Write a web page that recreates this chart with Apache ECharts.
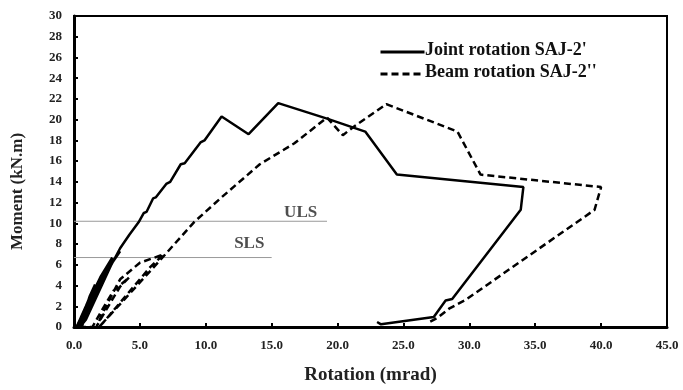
<!DOCTYPE html>
<html><head><meta charset="utf-8">
<script src="https://cdn.jsdelivr.net/npm/echarts@6/dist/echarts.min.js"></script>
<style>html,body{margin:0;padding:0;background:#fff}#c{width:683px;height:390px}</style>
</head><body><div id="c"></div>
<script>
const jointRot = [0.2, 0.9, 1.6, 1.2, 0.5, 0.35, 1.0, 2.0, 2.9, 2.4, 0.8, 0.5, 1.3, 2.4, 3.2, 3.5, 2.9, 0.9, 0.45, 2.0, 3.5, 4.2, 4.9, 5.3, 5.5, 6.0, 6.2, 7.0, 7.3, 8.1, 8.4, 9.6, 9.9, 11.2, 13.25, 15.5, 19.2, 22.1, 24.5, 34.1, 33.9, 28.7, 28.2, 27.3, 23.3, 23.0];
const jointM   = [0, 2.0, 4.1, 3.0, 0.3, 0, 2.2, 4.8, 6.7, 5.6, 0.6, 0, 2.8, 5.4, 6.8, 7.3, 6.2, 0.7, 0, 4.0, 7.6, 8.9, 10.1, 11.0, 11.1, 12.4, 12.5, 13.8, 14.0, 15.7, 15.8, 17.8, 18.0, 20.3, 18.6, 21.6, 20.1, 18.85, 14.7, 13.5, 11.3, 2.7, 2.55, 0.96, 0.26, 0.48];
const beamRot  = [0.2, 0.9, 1.2, 0.7, 0.6, 1.4, 2.2, 3.0, 4.2, 3.5, 1.9, 1.7, 2.5, 3.5, 5.0, 6.8, 5.8, 2.2, 1.9, 4.0, 6.5, 9.1, 11.1, 14.1, 16.7, 19.2, 20.4, 21.2, 23.7, 29.1, 30.85, 40.0, 39.5, 29.7, 28.5, 27.6, 27.0];
const beamM    = [0, 1.8, 2.6, 0.5, 0, 0, 1.8, 3.5, 4.8, 3.9, 0.5, 0, 2.2, 4.6, 6.2, 7.0, 5.8, 0.4, 0, 2.9, 6.4, 10.1, 12.4, 15.7, 17.7, 20.2, 18.5, 19.3, 21.5, 18.85, 14.7, 13.5, 11.3, 2.6, 1.8, 0.9, 0.5];
const seriesNames = ["Joint rotation SAJ-2'", "Beam rotation SAJ-2''"];
const limitNames = ['ULS', 'SLS'];
const limitM = [10.2, 6.7];
const limitEnd = [19.2, 15.0];
const limitLabelPos = [[17.2, 11.0], [13.3, 8.0]];

const font = 'Liberation Serif';
const zip = (a, b) => a.map((v, i) => [v, b[i]]);
const limitSeries = limitNames.map((n, i) => ({
  type: 'line', silent: true, symbol: 'none',
  data: [[0, limitM[i]], [limitEnd[i], limitM[i]]],
  lineStyle: { color: '#999', width: 1 }, z: 1
}));
const limitLabels = {
  type: 'scatter', symbolSize: 0, silent: true,
  data: limitNames.map((n, i) => ({ value: limitLabelPos[i], name: n })),
  label: { show: true, position: 'inside', formatter: p => p.name,
    fontFamily: font, fontWeight: 'bold', fontSize: 17, color: '#222' }
};
const legendX = 378, legendY = [51, 73];
const legendGraphics = [];
seriesNames.forEach((n, i) => {
  legendGraphics.push({ type: 'line', left: legendX, top: legendY[i] - 1.5,
    shape: { x1: 0, y1: 0, x2: 44, y2: 0 },
    style: { stroke: '#000', lineWidth: 3, lineDash: i ? [7, 4] : null } });
  legendGraphics.push({ type: 'text', left: legendX + 47, top: legendY[i] - 10,
    style: { text: n, font: 'bold 18px "Liberation Serif"', fill: '#111' } });
});
const chart = echarts.init(document.getElementById('c'));
chart.setOption({
  animation: false,
  grid: { left: 74, right: 16, top: 16, bottom: 60, show: true, borderColor: '#000', borderWidth: 2 },
  graphic: legendGraphics,
  xAxis: {
    type: 'value', min: 0, max: 45, interval: 5,
    name: 'Rotation (mrad)', nameLocation: 'middle', nameGap: 39,
    nameTextStyle: { fontFamily: font, fontWeight: 'bold', fontSize: 19, color: '#222' },
    axisLine: { lineStyle: { color: '#000', width: 3 } },
    axisTick: { inside: true, length: 4, lineStyle: { color: '#000', width: 2 } },
    axisLabel: { formatter: v => v.toFixed(1), fontFamily: font, fontWeight: 'bold', fontSize: 13, color: '#222', margin: 12 },
    splitLine: { show: false }
  },
  yAxis: {
    type: 'value', min: 0, max: 30, interval: 2,
    name: 'Moment (kN.m)', nameLocation: 'middle', nameGap: 48,
    nameTextStyle: { fontFamily: font, fontWeight: 'bold', fontSize: 17, color: '#222', padding: [0, 40, 0, 0] },
    axisLine: { lineStyle: { color: '#000', width: 3 } },
    axisTick: { inside: true, length: 4, lineStyle: { color: '#000', width: 2 } },
    axisLabel: { fontFamily: font, fontWeight: 'bold', fontSize: 13, color: '#222', margin: 12 },
    splitLine: { show: false }
  },
  series: [
    ...limitSeries,
    limitLabels,
    { name: seriesNames[0], type: 'line', symbol: 'none', data: zip(jointRot, jointM),
      lineStyle: { color: '#000', width: 2.5 }, z: 3 },
    { name: seriesNames[1], type: 'line', symbol: 'none', data: zip(beamRot, beamM),
      lineStyle: { color: '#000', width: 2.5, type: [7, 4] }, z: 3 }
  ]
});
</script></body></html>
